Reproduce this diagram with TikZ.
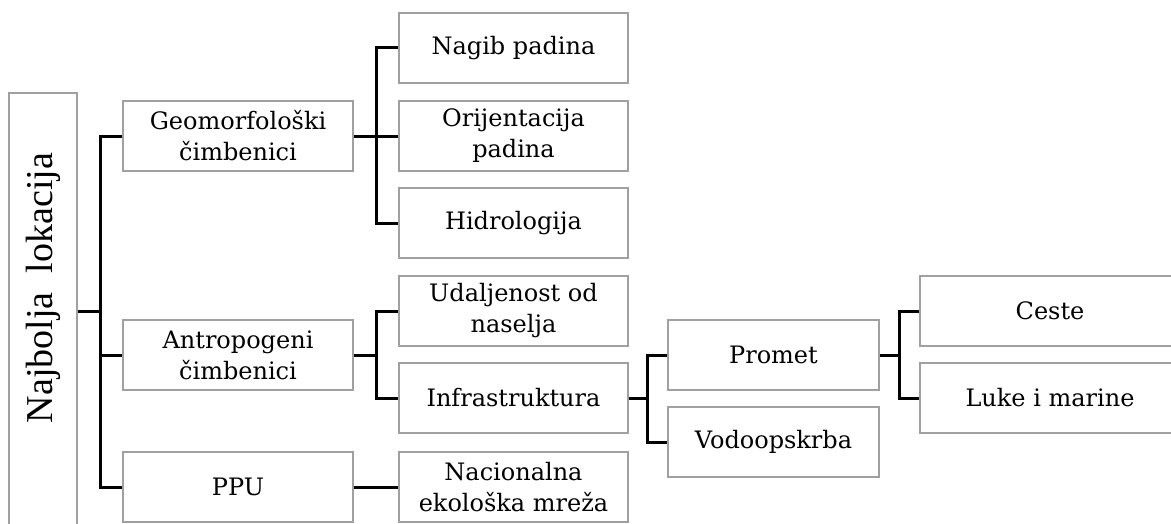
\documentclass[tikz,border=0pt]{standalone}
\usepackage{fontspec}
\setmainfont{DejaVu Serif}
\newfontfamily\rootfont{Liberation Serif}
\definecolor{boxline}{HTML}{A0A0A0}
\usetikzlibrary{positioning}

\begin{document}
\begin{tikzpicture}[x=0.5pt,y=-0.5pt,
  item/.style={draw=boxline,line width=0.7pt,fill=white,align=center,
    inner sep=2pt,font=\fontsize{12}{15.5}\selectfont,minimum height=35pt},
  lvla/.style={item,minimum width=115pt},
  lvlb/.style={item,minimum width=114.5pt},
  lvlc/.style={item,minimum width=105.5pt},
  lvld/.style={item,minimum width=130pt},
  link/.style={line width=1.5pt,black}]
  \useasboundingbox (0,0) rectangle (1171,524);
  % root
  \node[draw=boxline,line width=0.7pt,rotate=90,minimum width=218pt,minimum height=34pt,
    inner sep=0pt,font=\rootfont\fontsize{19}{21}\selectfont] (root) at (43,311)
    {\hspace*{23pt}Najbolja\ \ lokacija};
  % first level
  \node[lvla] (geo)   at (238,136) {Geomorfološki\\čimbenici};
  \node[lvla] (antro) at (238,355) {Antropogeni\\čimbenici};
  \node[lvla] (ppu)   at (238,487) {PPU};
  % second level
  \node[lvlb] (nagib) at (513.5,48)  {Nagib padina};
  \node[lvlb] (orij)  at (513.5,136) {Orijentacija\\padina};
  \node[lvlb] (hidro) at (513.5,223) {Hidrologija};
  \node[lvlb] (udalj) at (513.5,311) {Udaljenost od\\naselja};
  \node[lvlb] (infra) at (513.5,398) {Infrastruktura};
  \node[lvlb] (nacio) at (513.5,487) {Nacionalna\\ekološka mreža};
  % third level
  \node[lvlc] (promet) at (773.5,355) {Promet};
  \node[lvlc] (vodo)   at (773.5,442) {Vodoopskrba};
  % fourth level
  \node[lvld] (ceste) at (1050,311) {Ceste};
  \node[lvld] (luke)  at (1050,398) {Luke i marine};
  % forks
  \coordinate (f0) at (100,311);
  \coordinate (f1) at (376,136);
  \coordinate (f2) at (376,355);
  \coordinate (f3) at (647,398);
  \coordinate (f4) at (899,355);
  \draw[link] (root.south) -- (f0);
  \draw[link] (geo.west) -| (f0) |- (ppu.west);
  \draw[link] (f0 |- antro.west) -- (antro.west);
  \draw[link] (geo.east) -- (f1);
  \draw[link] (nagib.west) -| (f1) |- (hidro.west);
  \draw[link] (f1) -- (orij.west);
  \draw[link] (antro.east) -- (f2);
  \draw[link] (udalj.west) -| (f2) |- (infra.west);
  \draw[link] (ppu.east) -- (nacio.west);
  \draw[link] (infra.east) -- (f3);
  \draw[link] (promet.west) -| (f3) |- (vodo.west);
  \draw[link] (promet.east) -- (f4);
  \draw[link] (ceste.west) -| (f4) |- (luke.west);
\end{tikzpicture}
\end{document}
